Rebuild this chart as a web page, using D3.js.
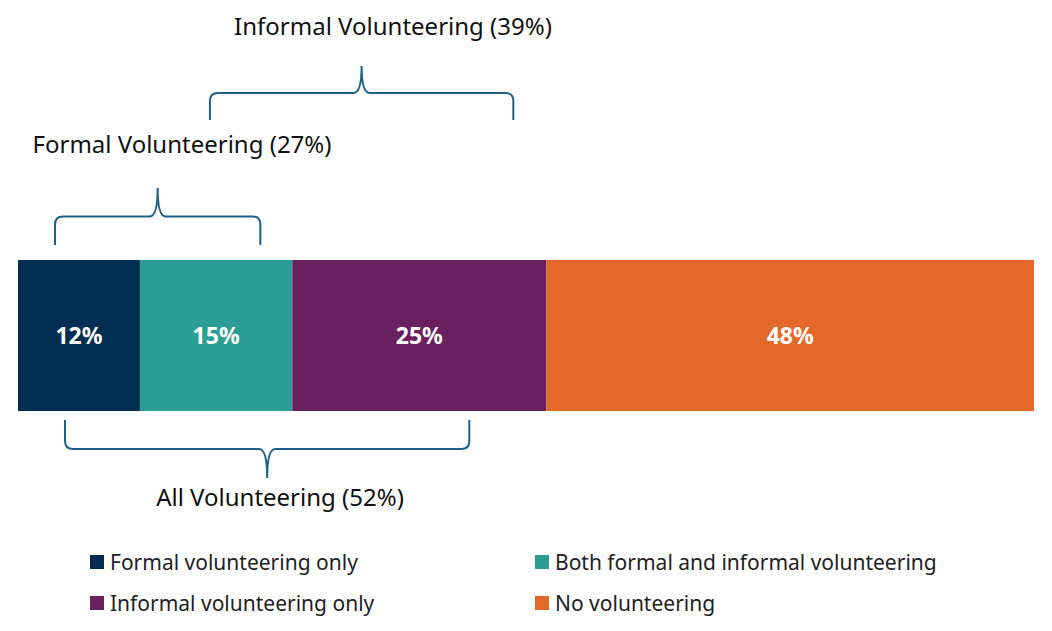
<!DOCTYPE html>
<html><head><meta charset="utf-8">
<script src="https://cdn.jsdelivr.net/npm/d3@7"></script>
<style>body{margin:0;background:#fff}text{font-family:"Noto Sans",sans-serif}</style>
</head><body><svg id="c" width="1052" height="631"></svg>
<script>
const categories=["Formal volunteering only","Both formal and informal volunteering","Informal volunteering only","No volunteering"];
const values=[12,15,25,48];
const colors=["#002D52","#2A9D94","#6A1F5F","#E5682B"];
const groups=[
 {label:"Formal Volunteering (27%)",from:0,to:1,side:"top",yEnd:245,yTip:188,inset:[37,32],lx:182,ly:153},
 {label:"Informal Volunteering (39%)",from:1,to:2,side:"top",yEnd:120,yTip:66,inset:[70,33],lx:393,ly:35},
 {label:"All Volunteering (52%)",from:0,to:2,side:"bottom",yEnd:420,yTip:478,inset:[47,77],lx:280,ly:506}
];
const svg=d3.select("#c");
const x=d3.scaleLinear().domain([0,100]).range([18,1034]);
const y0=260,y1=411;
let cum=[0];values.forEach(v=>cum.push(cum[cum.length-1]+v));
svg.selectAll("rect.b").data(values).join("rect").attr("class","b")
 .attr("x",(d,i)=>x(cum[i])).attr("width",d=>x(d)-x(0)).attr("y",y0).attr("height",y1-y0)
 .attr("fill",(d,i)=>colors[i]);
svg.selectAll("text.v").data(values).join("text").attr("class","v")
 .attr("x",(d,i)=>x(cum[i]+d/2)).attr("y",(y0+y1)/2+8).attr("text-anchor","middle")
 .attr("fill","#fff").attr("font-weight","bold").attr("font-size",23).text(d=>d+"%");
function brace(x1,x2,ye,yt){
 const s=Math.sign(yt-ye), ym=ye+s*(Math.abs(yt-ye)/2), xm=(x1+x2)/2, r=8;
 return `M${x1},${ye} L${x1},${ym-s*r} Q${x1},${ym} ${x1+r},${ym} L${xm-r},${ym} Q${xm},${ym} ${xm},${yt}`+
  ` Q${xm},${ym} ${xm+r},${ym} L${x2-r},${ym} Q${x2},${ym} ${x2},${ym-s*r} L${x2},${ye}`;
}
groups.forEach(g=>{
 const a=x(cum[g.from])+g.inset[0], b=x(cum[g.to+1])-g.inset[1];
 svg.append("path").attr("d",brace(a,b,g.yEnd,g.yTip)).attr("fill","none").attr("stroke","#1F6286").attr("stroke-width",2);
 svg.append("text").attr("x",g.lx).attr("y",g.ly).attr("text-anchor","middle").attr("font-size",24).attr("fill","#111").text(g.label);
});
const lp=[[90,562],[535,562],[90,603],[535,603]];
categories.forEach((c,i)=>{
 svg.append("rect").attr("x",lp[i][0]).attr("y",lp[i][1]-7).attr("width",14).attr("height",14).attr("fill",colors[i]);
 svg.append("text").attr("x",lp[i][0]+20).attr("y",lp[i][1]+8).attr("font-size",21).attr("fill","#222").text(c);
});
</script></body></html>
